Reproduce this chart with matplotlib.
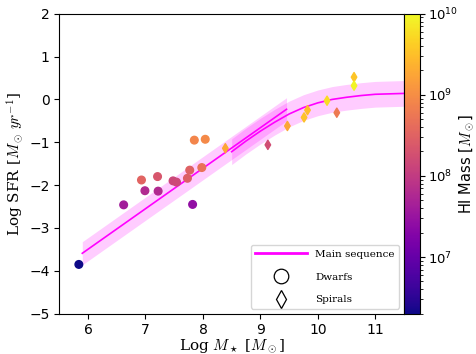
import numpy as np
import matplotlib
matplotlib.use("Agg")
import matplotlib.pyplot as plt
from matplotlib.colors import LogNorm
from matplotlib.lines import Line2D

plt.rcParams['mathtext.fontset'] = 'cm'

# Dwarf galaxies
dwarf_mstar = [5.84, 6.62, 6.93, 6.99, 7.21, 7.22, 7.48, 7.54, 7.73, 7.77, 7.82, 7.85, 7.98, 8.04]
dwarf_sfr = [-3.85, -2.46, -1.88, -2.13, -1.80, -2.14, -1.90, -1.93, -1.84, -1.65, -2.45, -0.95, -1.59, -0.93]
dwarf_hi = [2.0e6, 4.0e7, 3.3e8, 6.0e7, 2.2e8, 6.0e7, 1.4e8, 1.5e8, 2.8e8, 3.0e8, 2.6e7, 8.0e8, 4.7e8, 9.0e8]

# Spiral galaxies
spiral_mstar = [8.39, 9.13, 9.47, 9.76, 9.82, 10.16, 10.33, 10.63, 10.63]
spiral_sfr = [-1.14, -1.06, -0.62, -0.42, -0.25, -0.03, -0.31, 0.52, 0.32]
spiral_hi = [1.8e9, 1.7e8, 1.8e9, 3.3e9, 3.0e9, 5.5e9, 6.0e8, 3.5e9, 9.0e9]

# Main sequence (dwarf linear fit)
ms_lin_x = [5.90, 9.455]
ms_lin_y = [-3.59, -0.23]
ms_lin_err = 0.27

# Main sequence (spiral curved fit)
ms_cur_x = [8.5, 8.75, 9.0, 9.25, 9.5, 9.75, 10.0, 10.25, 10.5, 10.75, 11.0, 11.25, 11.5]
ms_cur_y = [-1.22, -0.97, -0.74, -0.53, -0.34, -0.19, -0.08, 0.0, 0.05, 0.09, 0.12, 0.13, 0.14]
ms_cur_err = 0.30

fig = plt.figure(figsize=(4.76, 3.54), dpi=100)
ax = fig.add_axes([0.1246, 0.1138, 0.7242, 0.8475])
cax = fig.add_axes([0.8487, 0.1138, 0.0336, 0.8475])

norm = LogNorm(vmin=2e6, vmax=1e10)
cmap = 'plasma'

lx = np.array(ms_lin_x); ly = np.array(ms_lin_y)
ax.fill_between(lx, ly - ms_lin_err, ly + ms_lin_err, color='magenta', alpha=0.2, lw=0)
ax.plot(lx, ly, color='magenta', lw=1.2)
cx = np.array(ms_cur_x); cy = np.array(ms_cur_y)
ax.fill_between(cx, cy - ms_cur_err, cy + ms_cur_err, color='magenta', alpha=0.2, lw=0)
ax.plot(cx, cy, color='magenta', lw=1.2)

sc = ax.scatter(dwarf_mstar, dwarf_sfr, c=dwarf_hi, cmap=cmap, norm=norm, marker='o', s=30, zorder=3)
ax.scatter(spiral_mstar, spiral_sfr, c=spiral_hi, cmap=cmap, norm=norm, marker='d', s=22, zorder=3)

ax.set_xlim(5.5, 11.5)
ax.set_ylim(-5, 2)
ax.set_xticks([6, 7, 8, 9, 10, 11])
ax.set_yticks([-5, -4, -3, -2, -1, 0, 1, 2])
ax.tick_params(labelsize=10)
ax.set_xlabel(r'Log $M_\star$ [$M_\odot$]', family='DejaVu Serif', fontsize=11, labelpad=0)
ax.set_ylabel(r'Log SFR [$M_\odot\, yr^{-1}$]', family='DejaVu Serif', fontsize=11, labelpad=3)

handles = [
    Line2D([], [], color='magenta', lw=2),
    Line2D([], [], marker='o', ls='', mfc='none', mec='k', ms=10.5, mew=0.9),
    Line2D([], [], marker='d', ls='', mfc='none', mec='k', ms=9, mew=0.9),
]
ax.legend(handles, ['Main sequence', 'Dwarfs', 'Spirals'], loc='lower right',
          prop={'family': 'DejaVu Serif', 'size': 7.5}, handlelength=5,
          handletextpad=0.8, labelspacing=1.3)

cb = fig.colorbar(sc, cax=cax)
cb.ax.tick_params(labelsize=9.5, pad=2)
cb.set_label(r'HI Mass [$M_\odot$]', fontsize=10.5, labelpad=0)

fig.savefig('out.png', dpi=100)
